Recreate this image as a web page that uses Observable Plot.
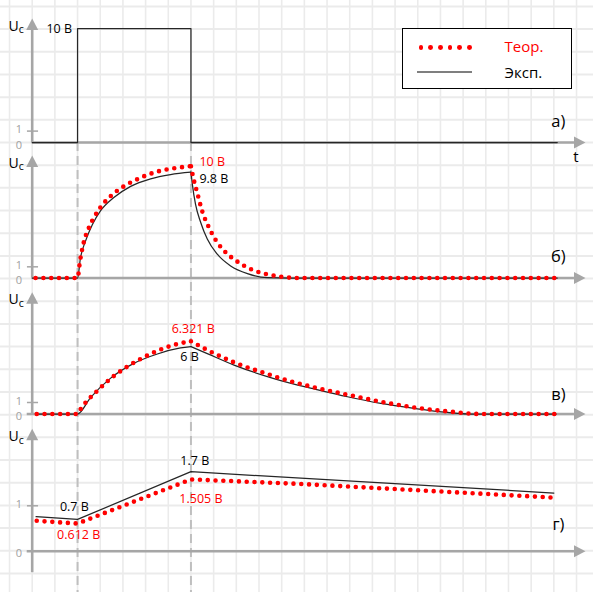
<!DOCTYPE html>
<html><head><meta charset="utf-8">
<script src="https://cdn.jsdelivr.net/npm/d3@7"></script>
<script src="https://cdn.jsdelivr.net/npm/@observablehq/plot@0.6"></script>
<style>
body{margin:0;background:#fff;}
#wrap{position:relative;width:593px;height:592px;overflow:hidden;font-family:"Open Sans",sans-serif;background:#fff;}
#wrap svg{position:absolute;left:0;top:0;overflow:visible;background:transparent;}
#legend{position:absolute;left:402px;top:28px;width:170px;height:61px;box-sizing:border-box;border:1.5px solid #000;background:#fff;}
#legend .dot{position:absolute;width:4.8px;height:4.8px;border-radius:50%;background:#ff0000;top:16.3px;}
#legend .ln{position:absolute;left:14px;top:41.5px;width:55px;height:2px;background:#7f7f7f;}
#legend .tx{position:absolute;left:101.5px;font-size:15px;line-height:16px;}
</style></head><body><div id="wrap"></div>
<script>
// ---------- data ----------
const timeMarks = [2, 7];
const tickValues = [0, 1];
const panelNames = ["а)", "б)", "в)", "г)"];
const panelNameV = [1.84, 1.86, 1.7, 0.58];
const axisTopV = [9.91, 9.97, 9.63, 2.45];
const axisBottomV = [0, 0, 0, -0.47];
const axisStartT = [0, 0, -0.22, -0.22];
const axisEndT = 23.91;

// а) input pulse
const aT = [0, 2, 2, 7, 7, 23.15];
const aV = [0, 0, 10, 10, 0, 0];

// б)
const bTheoUpT = [0.15, 2, 2.1, 2.25, 2.5, 2.75, 3, 3.5, 4, 4.6, 5.4, 6.2, 7];
const bTheoUpV = [0, 0, 1.4, 3.0, 4.5, 5.5, 6.3, 7.4, 8.15, 8.8, 9.45, 9.8, 10];
const bTheoDownT = [7, 7.1, 7.28, 7.5, 7.79, 8.09, 8.53, 9.05, 9.63, 10.3, 10.96, 11.7, 23.15];
const bTheoDownV = [10, 9.0, 7.6, 5.95, 4.53, 3.4, 2.3, 1.46, 0.8, 0.36, 0.12, 0, 0];
const bExpUpT = [0, 2, 2.13, 2.35, 2.65, 3.01, 3.6, 4.34, 5.22, 6.1, 7];
const bExpUpV = [0, 0, 1.82, 3.3, 4.76, 6.0, 7.2, 8.2, 8.87, 9.25, 9.46];
const bExpDownT = [7, 7.06, 7.2, 7.43, 7.72, 8.16, 8.75, 9.49, 10.37, 11.4, 23.15];
const bExpDownV = [9.46, 8.4, 6.6, 4.97, 3.48, 2.13, 1.08, 0.39, 0.03, 0, 0];

// в)
const cTheoUpT = [0.2, 2, 2.13, 2.86, 3.6, 4.48, 5.37, 6.4, 7];
const cTheoUpV = [0, 0, 0.41, 2.0, 3.3, 4.46, 5.36, 6.09, 6.32];
const cTheoDownT = [7, 7.72, 8.9, 10.37, 10.96, 12.43, 13.9, 15.37, 16.84, 18.31, 19.8, 23.1];
const cTheoDownV = [6.32, 5.57, 4.49, 3.48, 3.1, 2.32, 1.68, 1.07, 0.57, 0.23, 0, 0];
const cExpUpT = [0.18, 2, 2.57, 3.46, 4.48, 5.52, 6.54, 7];
const cExpUpV = [0, 0, 1.43, 3.12, 4.4, 5.22, 5.74, 5.86];
const cExpDownT = [7, 7.72, 8.9, 10.37, 10.96, 12.43, 13.9, 15.37, 16.84, 18.31, 19.3, 23.1];
const cExpDownV = [5.86, 5.25, 4.25, 3.25, 2.9, 2.18, 1.5, 0.92, 0.49, 0.14, 0, 0];

// г)
const dTheoT = [0.2, 2, 7, 11.84, 23];
const dTheoV = [0.67, 0.61, 1.58, 1.48, 1.18];
const dExpT = [0.17, 2, 7, 23];
const dExpV = [0.76, 0.70, 1.75, 1.28];

// value annotations
const labelPanel = [0, 1, 1, 2, 2, 3, 3, 3, 3];
const labelText = ["10 В", "10 В", "9.8 В", "6.321 В", "6 В", "1.7 В", "1.505 В", "0.7 В", "0.612 В"];
const labelKind = ["exp", "theo", "exp", "theo", "exp", "exp", "theo", "exp", "theo"];
const labelT = [1.19, 7.94, 8.01, 7.1, 6.94, 7.17, 7.44, 1.86, 2.05];
const labelV = [10.0, 10.42, 8.85, 7.41, 4.94, 1.98, 1.15, 0.98, 0.35];

// ---------- styles ----------
const RED = "#ff0000", BLACK = "#262626", AXIS = "#a6a6a6", GRID = "#ebebeb";
const rows = (ts, vs, seg) => ts.map((t, i) => ({t, v: vs[i], seg}));

const arrowUp = {draw(ctx) { ctx.moveTo(-6, 0.5); ctx.lineTo(6, 0.5); ctx.lineTo(0, -11); ctx.closePath(); }};
const arrowRight = {draw(ctx) { ctx.moveTo(-0.5, -6); ctx.lineTo(-0.5, 6); ctx.lineTo(11, 0); ctx.closePath(); }};

const X = {domain: [0, 1], range: [31.7, 31.7 + 22.68], axis: null};
const baseStyle = {fontFamily: "'Open Sans', sans-serif", fontSize: "12.5px", background: "transparent", overflow: "visible"};

const wrap = document.getElementById("wrap");

// background grid + dashed time marks
const gridCols = d3.range(-1, 26);
const gridRows = d3.range(-6, 20);
wrap.append(Plot.plot({
  width: 593, height: 592, margin: 0,
  x: X,
  y: {domain: [0, 1], range: [142, 142 + 22.68], axis: null},
  style: baseStyle,
  marks: [
    Plot.ruleX(gridCols, {stroke: GRID, strokeWidth: 1.6}),
    Plot.ruleY(gridRows, {stroke: GRID, strokeWidth: 2}),
    Plot.ruleX(timeMarks, {y1: 0, y2: 20, stroke: "#bfbfbf", strokeWidth: 2, strokeDasharray: "9,5"})
  ]
}));

function theoLine(data, curve) {
  return Plot.line(data, {x: "t", y: "v", z: "seg", curve, stroke: RED, strokeWidth: 4.6,
    strokeDasharray: "0 7.8", strokeLinecap: "round"});
}
function expLine(data, curve) {
  return Plot.line(data, {x: "t", y: "v", z: "seg", curve, stroke: BLACK, strokeWidth: 1.25});
}

function panel(i, yDomain, yRange, curveMarks, extra = []) {
  const labels = labelText.map((text, k) => ({text, t: labelT[k], v: labelV[k], kind: labelKind[k], p: labelPanel[k]}))
    .filter(d => d.p === i);
  const marks = [
    Plot.ruleX([0], {y1: axisBottomV[i], y2: axisTopV[i], stroke: AXIS, strokeWidth: 2.6}),
    Plot.ruleY([0], {x1: axisStartT[i], x2: axisEndT, stroke: AXIS, strokeWidth: 2.6}),
    Plot.dot([axisTopV[i]], {x: () => 0, y: d => d, symbol: arrowUp, r: 5, fill: AXIS, stroke: null}),
    Plot.dot([0], {x: () => axisEndT, y: d => d, symbol: arrowRight, r: 5, fill: AXIS, stroke: null}),
    Plot.ruleY([1], {x1: -0.21, x2: 0.28, stroke: AXIS, strokeWidth: 1.5}),
    Plot.text([tickValues[1]], {x: () => 0, y: d => d, text: d => String(d), dx: -13.3, dy: -1.5, fill: "#a0a0a0", fontSize: 11}),
    Plot.text([tickValues[0]], {x: () => 0, y: d => d, text: d => String(d), dx: -13.3, dy: 2.5, fill: "#a0a0a0", fontSize: 11}),
    Plot.text([axisTopV[i]], {x: () => 0, y: d => d, text: () => "U", dx: -18.5, dy: -3.5, fill: "#000", fontSize: 14}),
    Plot.text([axisTopV[i]], {x: () => 0, y: d => d, text: () => "c", dx: -11, dy: 0.5, fill: "#000", fontSize: 10.5}),
    ...curveMarks,
    Plot.text(labels, {x: "t", y: "v", text: "text", fill: d => d.kind === "theo" ? RED : "#000", fontSize: 12.5}),
    Plot.text([panelNames[i]], {x: () => 23.2, y: () => panelNameV[i], text: d => d, fill: "#000", fontSize: 16.5}),
    ...extra
  ];
  wrap.append(Plot.plot({
    width: 593, height: 592, margin: 0,
    x: X,
    y: {domain: yDomain, range: yRange, axis: null},
    style: baseStyle,
    marks
  }));
}

// а)
panel(0, [0, 10], [142, 28], [
  Plot.line(rows(aT, aV, "a"), {x: "t", y: "v", stroke: BLACK, strokeWidth: 1.25})
], [
  Plot.text(["t"], {x: () => 23.97, y: () => 0, dy: 15, text: d => d, fill: "#000", fontSize: 15})
]);

// б)
panel(1, [0, 10], [277.5, 165.7], [
  expLine([...rows(bExpUpT, bExpUpV, "up"), ...rows(bExpDownT, bExpDownV, "down")], d3.curveMonotoneX),
  theoLine([...rows(bTheoUpT, bTheoUpV, "up"), ...rows(bTheoDownT, bTheoDownV, "down")], d3.curveMonotoneX)
]);

// в)
panel(2, [0, 1], [413.5, 402], [
  expLine([...rows(cExpUpT, cExpUpV, "up"), ...rows(cExpDownT, cExpDownV, "down")], d3.curveMonotoneX),
  theoLine([...rows(cTheoUpT, cTheoUpV, "up"), ...rows(cTheoDownT, cTheoDownV, "down")], d3.curveMonotoneX)
]);

// г)
panel(3, [0, 1], [550.8, 505.3], [
  expLine(rows(dExpT, dExpV, "all"), "linear"),
  theoLine(rows(dTheoT, dTheoV, "all"), "linear")
]);

// legend
const legendItems = ["Теор.", "Эксп."];
const legend = document.createElement("div");
legend.id = "legend";
for (let k = 0; k < 6; k++) {
  const s = document.createElement("span");
  s.className = "dot";
  s.style.left = (15.5 + k * 9.7) + "px";
  legend.append(s);
}
const ln = document.createElement("span"); ln.className = "ln"; legend.append(ln);
legendItems.forEach((name, k) => {
  const s = document.createElement("span");
  s.className = "tx";
  s.textContent = name;
  s.style.top = (k === 0 ? 9 : 35) + "px";
  s.style.color = k === 0 ? RED : "#000";
  legend.append(s);
});
wrap.append(legend);
</script></body></html>
